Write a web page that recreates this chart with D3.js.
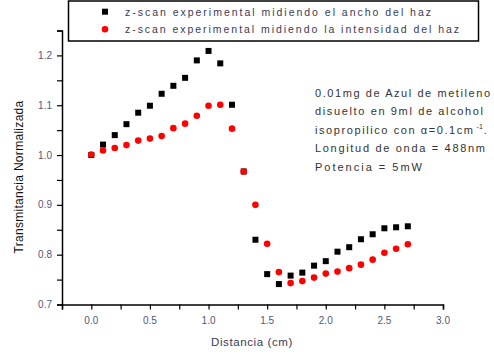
<!DOCTYPE html>
<html>
<head>
<meta charset="utf-8">
<script src="https://cdn.jsdelivr.net/npm/d3@7"></script>
<style>
  html, body { margin: 0; padding: 0; background: #fff; }
  svg { display: block; font-family: Arial, "Liberation Sans", sans-serif; }
</style>
</head>
<body>
<svg id="chart" width="494" height="356"></svg>
<script>
// Distance positions (cm)
const distancia = [0.0, 0.1, 0.2, 0.3, 0.4, 0.5, 0.6, 0.7, 0.8, 0.9, 1.0, 1.1, 1.2, 1.3,
                   1.4, 1.5, 1.6, 1.7, 1.8, 1.9, 2.0, 2.1, 2.2, 2.3, 2.4, 2.5, 2.6, 2.7];
// z-scan measuring beam width
const anchoHaz = [1.000, 1.021, 1.040, 1.062, 1.085, 1.099, 1.123, 1.139, 1.155, 1.190, 1.209, 1.184, 1.101, 0.967,
                  0.830, 0.761, 0.741, 0.758, 0.764, 0.778, 0.787, 0.806, 0.815, 0.831, 0.841, 0.853, 0.855, 0.857];
// z-scan measuring beam intensity
const intensidadHaz = [1.001, 1.009, 1.014, 1.020, 1.029, 1.033, 1.038, 1.054, 1.063, 1.079, 1.099, 1.101, 1.053, 0.967,
                       0.900, 0.822, 0.765, 0.743, 0.747, 0.754, 0.762, 0.766, 0.773, 0.780, 0.790, 0.804, 0.812, 0.821];

const xTicks = [0.0, 0.5, 1.0, 1.5, 2.0, 2.5, 3.0];
const yTicks = [0.7, 0.8, 0.9, 1.0, 1.1, 1.2];
const legendLabels = ["z-scan experimental midiendo el ancho del haz",
                      "z-scan experimental midiendo la intensidad del haz"];
const notes = ["0.01mg de Azul de metileno",
               "disuelto en 9ml de alcohol",
               "isopropilico con \u03B1=0.1cm",
               "Longitud de onda = 488nm",
               "Potencia = 5mW"];

const svg = d3.select("#chart");
const x = d3.scaleLinear().domain([-0.25, 3.0]).range([62, 443]);
const y = d3.scaleLinear().domain([0.7, 1.25]).range([304.5, 30.5]);

const tickColor = "#55557a";

// X axis
const gx = svg.append("g").attr("transform", `translate(0,${y(0.7)})`);
gx.call(d3.axisBottom(x).tickValues(d3.range(-0.25, 3.001, 0.25)).tickSize(5).tickFormat(""));
gx.select(".domain").attr("stroke", "#000").attr("stroke-width", 1.5);
gx.selectAll(".tick line").attr("stroke", "#000").attr("stroke-width", 1.2);
svg.append("g").selectAll("text").data(xTicks).enter().append("text")
  .attr("x", d => x(d)).attr("y", 324)
  .attr("text-anchor", "middle").attr("font-size", 10).attr("fill", tickColor)
  .text(d => d.toFixed(1));

// Y axis
const gy = svg.append("g").attr("transform", `translate(${x(-0.25)},0)`);
gy.call(d3.axisLeft(y).tickValues(d3.range(0.7, 1.2501, 0.05)).tickSize(5).tickFormat(""));
gy.select(".domain").attr("stroke", "#000").attr("stroke-width", 1.5);
gy.selectAll(".tick line").attr("stroke", "#000").attr("stroke-width", 1.2);
svg.append("g").selectAll("text").data(yTicks).enter().append("text")
  .attr("x", 52).attr("y", d => y(d) + 3.5)
  .attr("text-anchor", "end").attr("font-size", 10).attr("fill", tickColor)
  .text(d => d.toFixed(1));

// Axis titles
svg.append("text").attr("x", 252).attr("y", 346)
  .attr("text-anchor", "middle").attr("font-size", 11.5).attr("fill", "#3a3a55")
  .attr("letter-spacing", 0.6)
  .text("Distancia (cm)");
svg.append("text")
  .attr("transform", "translate(23,177) rotate(-90)")
  .attr("text-anchor", "middle").attr("font-size", 12).attr("fill", "#111")
  .attr("letter-spacing", 0.3)
  .text("Transmitancia Normalizada");

// Beam width series (squares)
const sq = 6;
svg.append("g").selectAll("rect").data(distancia).enter().append("rect")
  .attr("x", (d) => x(d) - sq / 2)
  .attr("y", (d, i) => y(anchoHaz[i]) - sq / 2)
  .attr("width", sq).attr("height", sq).attr("fill", "#000");

// Beam intensity series (circles)
svg.append("g").selectAll("circle").data(distancia).enter().append("circle")
  .attr("cx", d => x(d))
  .attr("cy", (d, i) => y(intensidadHaz[i]))
  .attr("r", 3.3).attr("fill", "#ff0000");

// Legend
svg.append("rect").attr("x", 68.5).attr("y", 1).attr("width", 410).attr("height", 40)
  .attr("fill", "#fff").attr("stroke", "#000").attr("stroke-width", 1.5);
svg.append("rect").attr("x", 105 - sq / 2).attr("y", 11.7 - sq / 2)
  .attr("width", sq).attr("height", sq).attr("fill", "#000");
svg.append("circle").attr("cx", 105).attr("cy", 29.3).attr("r", 3.3).attr("fill", "#ff0000");
const legendEnds = [306, 334];
legendLabels.forEach((t, i) => {
  svg.append("text").attr("x", 125).attr("y", 15.5 + i * 17.6)
    .attr("font-size", 10.5).attr("fill", "#3a3a55")
    .attr("textLength", legendEnds[i]).attr("lengthAdjust", "spacing")
    .text(t);
});

// Annotation
const noteWidths = [175, 168, 158, 170, 107];
notes.forEach((t, i) => {
  const el = svg.append("text").attr("x", 315).attr("y", 96.5 + i * 18.6)
    .attr("font-size", 11).attr("fill", "#333");
  if (i === 2) {
    el.append("tspan").attr("textLength", noteWidths[i]).attr("lengthAdjust", "spacing").text(t);
    el.append("tspan").attr("font-size", 7).attr("dx", 2).attr("dy", -5).text("-1");
    el.append("tspan").attr("dx", 1).attr("dy", 5).text(".");
  } else {
    el.attr("textLength", noteWidths[i]).attr("lengthAdjust", "spacing").text(t);
  }
});
</script>
</body>
</html>
